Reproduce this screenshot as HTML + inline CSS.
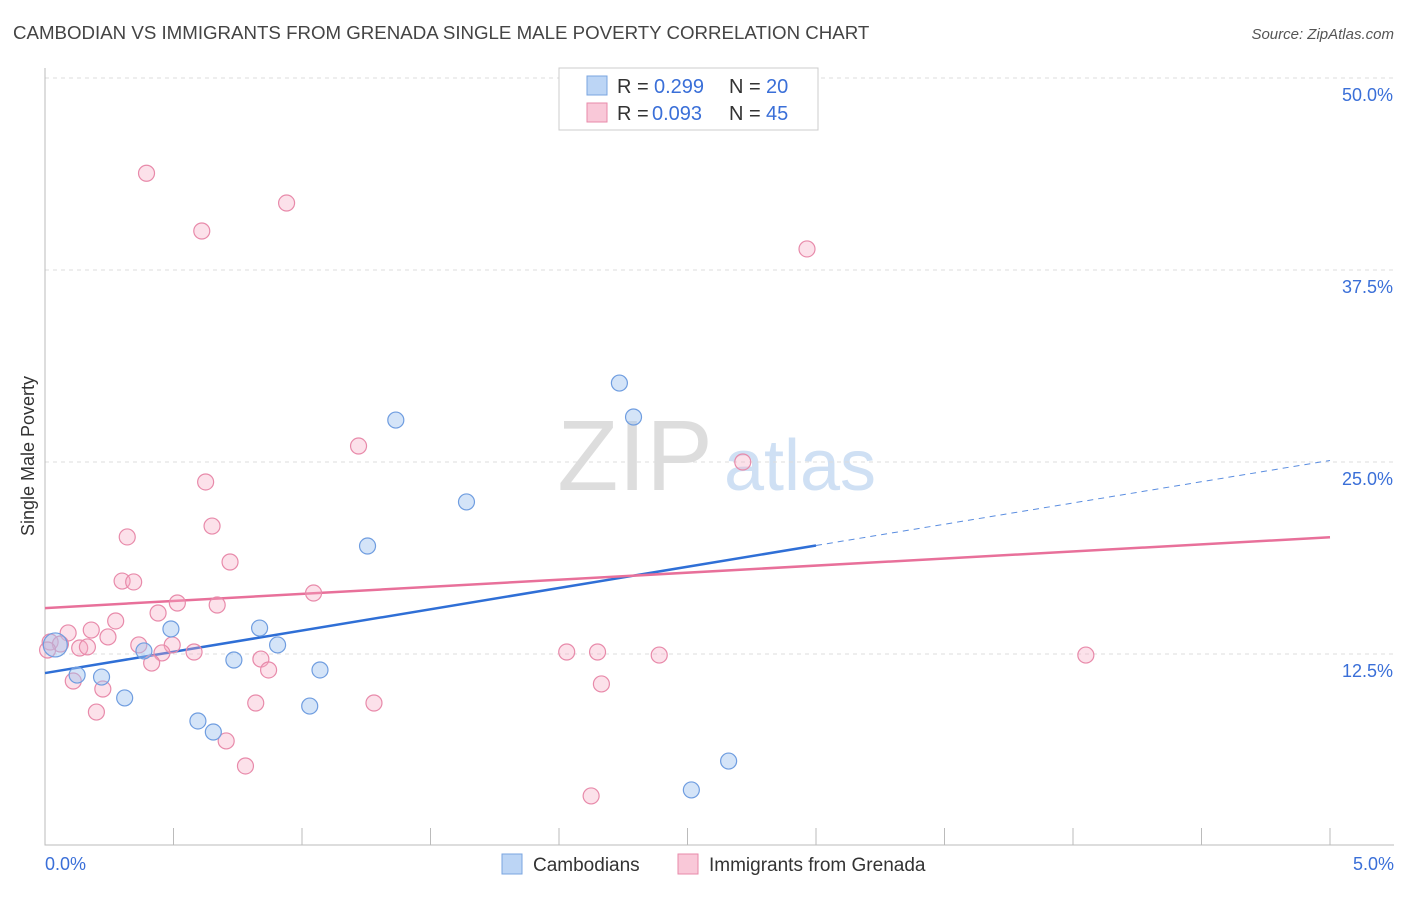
<!DOCTYPE html>
<html><head><meta charset="utf-8"><style>
body{margin:0;background:#fff;font-family:"Liberation Sans",sans-serif}
svg text{font-family:"Liberation Sans",sans-serif}
</style></head><body>
<svg id="chart" width="1406" height="892" viewBox="0 0 1406 892" xmlns="http://www.w3.org/2000/svg">
<text x="13" y="39" font-size="18.7" fill="#444">CAMBODIAN VS IMMIGRANTS FROM GRENADA SINGLE MALE POVERTY CORRELATION CHART</text>
<text x="1394" y="39" font-size="15" fill="#555" font-style="italic" text-anchor="end">Source: ZipAtlas.com</text>
<text transform="translate(34,456) rotate(-90)" font-size="18" fill="#333" text-anchor="middle">Single Male Poverty</text>
<g>
<text x="635" y="490" font-size="100" fill="#ddd" font-family="Liberation Serif" text-anchor="middle">ZIP</text>
<text x="800" y="490" font-size="72" fill="#cfe0f4" text-anchor="middle">atlas</text></g>
<g id="grid"></g><g id="axes"></g><g id="lines"></g><g id="dots"></g>
<g>
<rect x="559" y="68" width="259" height="62" fill="#fff" stroke="#ccc"/>
<rect x="587" y="76" width="20" height="19" fill="#bcd5f5" stroke="#7aa5e0"/>
<text x="617" y="93" font-size="20" fill="#333">R =</text><text x="654" y="93" font-size="20" fill="#3a6fd8">0.299</text>
<text x="729" y="93" font-size="20" fill="#333">N =</text><text x="766" y="93" font-size="20" fill="#3a6fd8">20</text>
<rect x="587" y="103" width="20" height="19" fill="#f9c8d8" stroke="#e88aaa"/>
<text x="617" y="120" font-size="20" fill="#333">R =</text><text x="652" y="120" font-size="20" fill="#3a6fd8">0.093</text>
<text x="729" y="120" font-size="20" fill="#333">N =</text><text x="766" y="120" font-size="20" fill="#3a6fd8">45</text>
</g>
<g>
<rect x="502" y="854" width="20" height="20" fill="#bcd5f5" stroke="#7aa5e0"/>
<text x="533" y="871" font-size="19" fill="#333">Cambodians</text>
<rect x="678" y="854" width="20" height="20" fill="#f9c8d8" stroke="#e88aaa"/>
<text x="709" y="871" font-size="19" fill="#333">Immigrants from Grenada</text>
</g>
</svg>
<script>
const yTicks=[12.5,25,37.5,50];
const yTickLabels=["12.5%","25.0%","37.5%","50.0%"];
const xTickLabels=["0.0%","5.0%"];
const blueX=[0.04,0.125,0.22,0.31,0.385,0.49,0.595,0.655,0.735,0.835,0.905,1.03,1.07,1.255,1.365,1.64,2.235,2.29,2.66,2.515];
const blueY=[13.09,11.13,11.0,9.64,12.7,14.13,8.14,7.42,12.11,14.19,13.09,9.11,11.46,19.53,27.73,22.4,30.14,27.93,5.53,3.65];
const pinkX=[0.395,0.61,0.94,2.965,1.22,0.625,0.65,0.32,0.72,2.715,0.30,0.345,1.045,0.515,0.44,0.67,0.275,0.18,0.09,0.245,0.365,0.495,0.02,0.06,0.135,0.165,0.455,0.58,0.415,0.84,0.87,0.11,0.225,0.2,0.82,1.28,0.705,0.78,2.03,2.15,2.39,2.165,2.125,4.05,0.01];
const pinkY=[43.8,40.04,41.86,38.87,26.04,23.7,20.83,20.12,18.49,25.0,17.25,17.19,16.47,15.82,15.17,15.69,14.65,14.06,13.87,13.61,13.09,13.09,13.28,13.15,12.89,12.96,12.57,12.63,11.91,12.17,11.46,10.74,10.22,8.72,9.31,9.31,6.84,5.21,12.63,12.63,12.43,10.55,3.26,12.43,12.76];
const blueTrend=[11.26,25.1]; const blueSolidEnd=3.0;
const pinkTrend=[15.49,20.1];
const X=v=>45+v*257, Y=v=>846-v*15.36;
const NS="http://www.w3.org/2000/svg";
function mk(p,t,a){const e=document.createElementNS(NS,t);for(const k in a)e.setAttribute(k,a[k]);document.getElementById(p).appendChild(e);return e;}
yTicks.forEach((t,i)=>{
 const l=mk('grid','line',{x1:45,x2:1394,y1:Y(t),y2:Y(t),stroke:'#ddd','stroke-dasharray':'4,4'});
 
 
 const tx=mk('grid','text',{x:1393,y:Y(t)+23,'font-size':18,fill:'#3a6fd8','text-anchor':'end'});tx.textContent=yTickLabels[i];
 
 
});
const ax=mk('axes','path',{d:'M45 68V845H1394',stroke:'#bbb',fill:'none'});


for(let i=0;i<=10;i++){const t=mk('axes','line',{x1:X(i*0.5),x2:X(i*0.5),y1:828,y2:845,stroke:'#bbb'});
 
 }
[[0,'start',45],[5,'end',1394]].forEach((d,i)=>{const t=mk('axes','text',{x:d[2],y:870,'font-size':18,fill:'#3a6fd8','text-anchor':d[1]});t.textContent=xTickLabels[i];
 
 });
const by=x=>blueTrend[0]+(blueTrend[1]-blueTrend[0])*x/5;
let l1=mk('lines','line',{x1:X(0),y1:Y(by(0)),x2:X(blueSolidEnd),y2:Y(by(blueSolidEnd)),stroke:'#2f6fd6','stroke-width':2.5});


let l2=mk('lines','line',{x1:X(blueSolidEnd),y1:Y(by(blueSolidEnd)),x2:X(5),y2:Y(by(5)),stroke:'#5a8de0','stroke-width':1,'stroke-dasharray':'6,5'});


let l3=mk('lines','line',{x1:X(0),y1:Y(pinkTrend[0]),x2:X(5),y2:Y(pinkTrend[1]),stroke:'#e8709a','stroke-width':2.5});


pinkX.forEach((x,i)=>{const c=mk('dots','circle',{cx:X(x),cy:Y(pinkY[i]),r:8,fill:'rgba(245,170,195,0.35)',stroke:'#e88aaa','stroke-width':1.2});
 
 });
blueX.forEach((x,i)=>{const c=mk('dots','circle',{cx:X(x),cy:Y(blueY[i]),r:i==0?12:8,fill:'rgba(160,195,240,0.45)',stroke:'#6f9de0','stroke-width':1.2});
 
 });
</script>
</body></html>
